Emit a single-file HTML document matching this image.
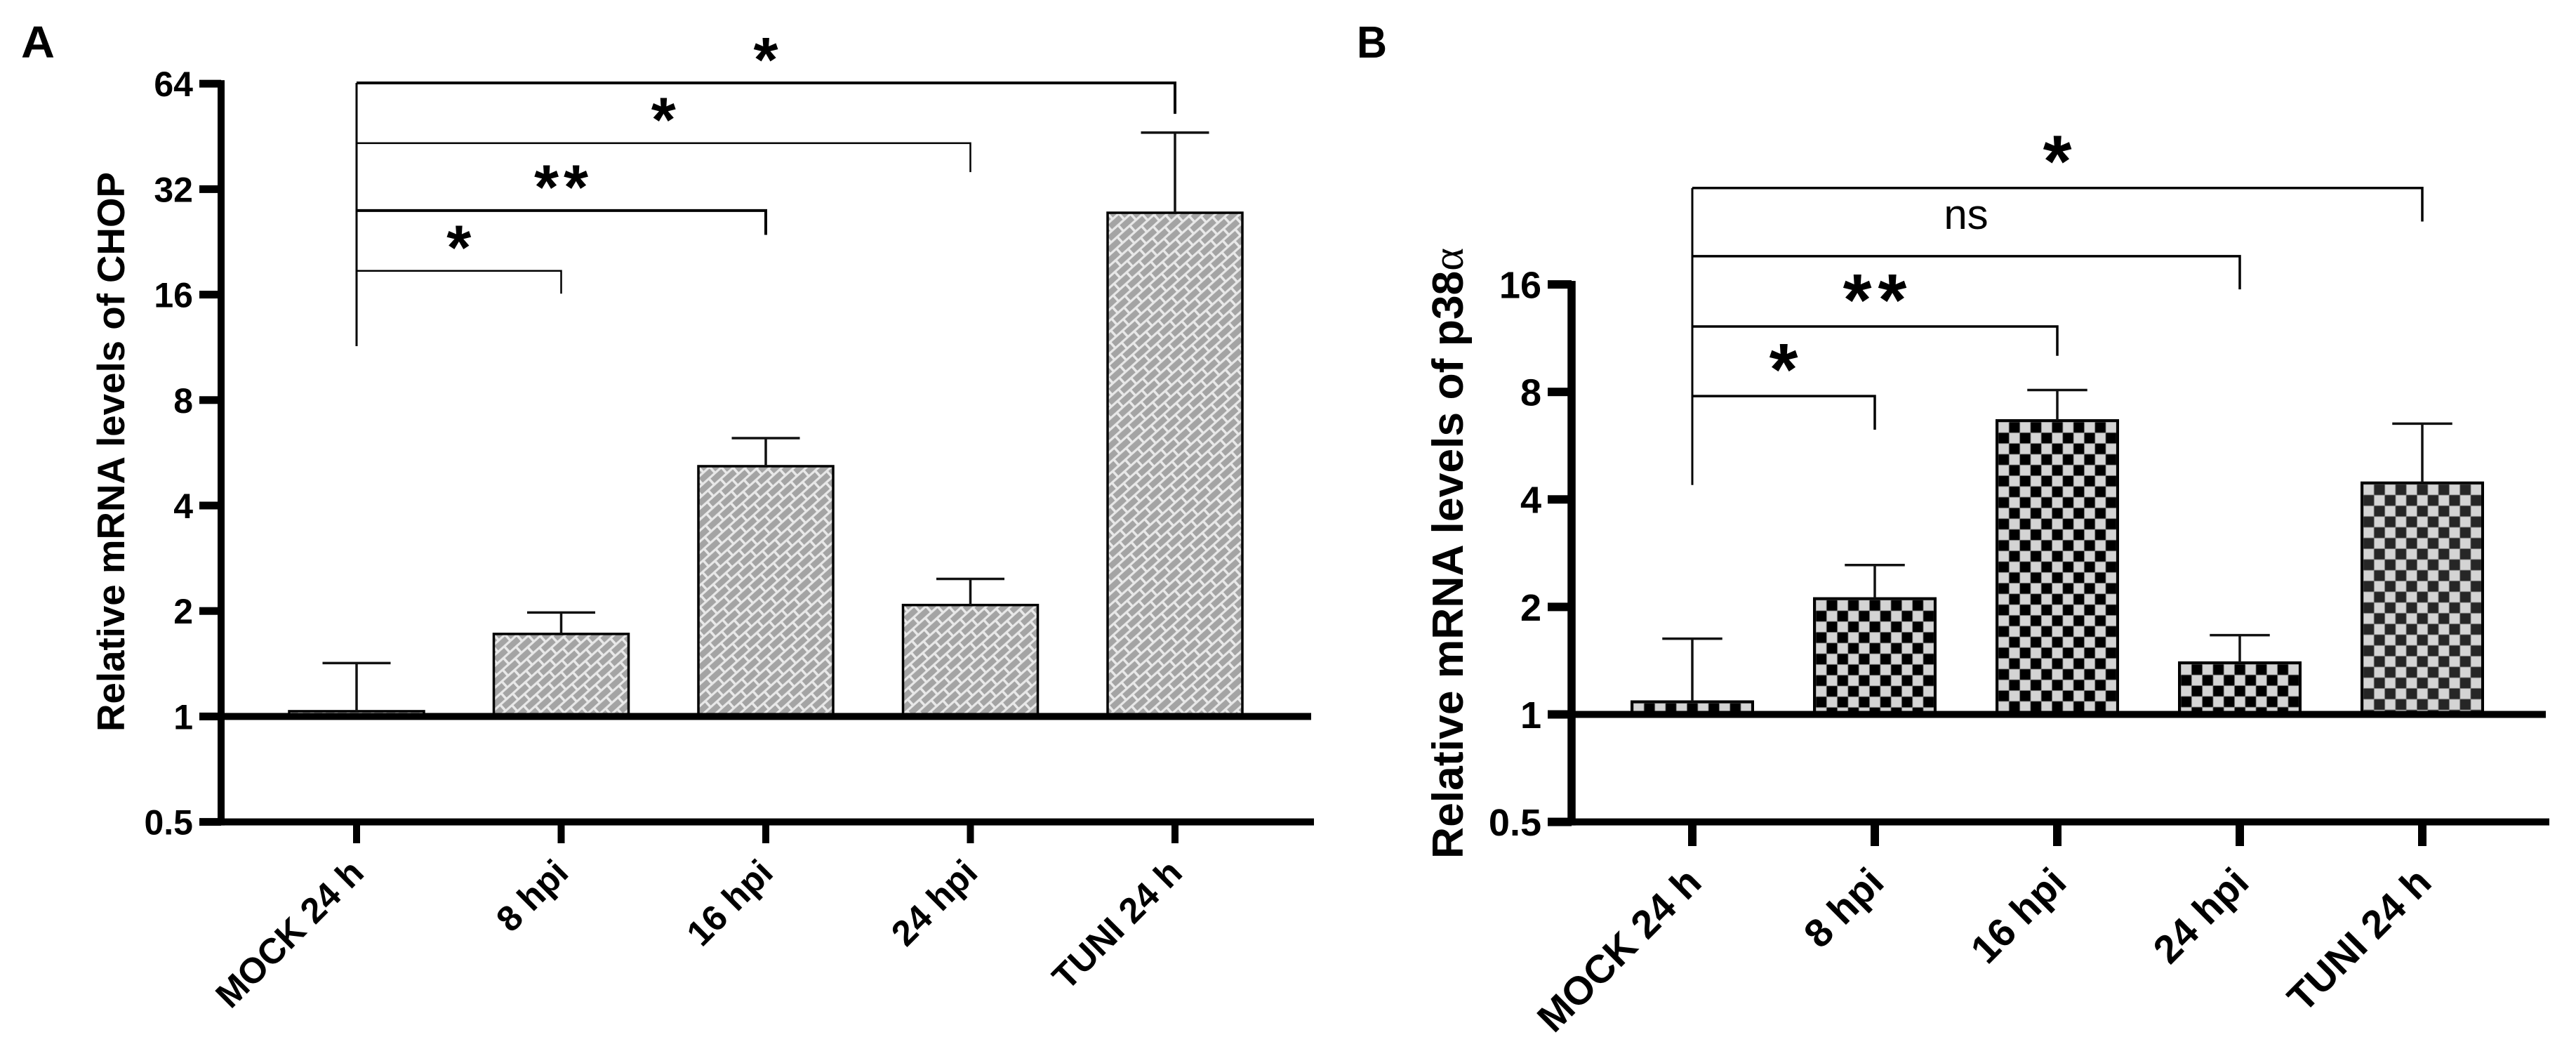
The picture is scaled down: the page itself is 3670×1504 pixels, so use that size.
<!DOCTYPE html>
<html lang="en">
<head>
<meta charset="utf-8">
<title>Relative mRNA levels of CHOP and p38α</title>
<style>
html,body{margin:0;padding:0;background:#fff;width:3670px;height:1504px;overflow:hidden}
svg{display:block}
text{font-family:"Liberation Sans",Arial,sans-serif;fill:#000}
</style>
</head>
<body>
<svg id="fig" xmlns="http://www.w3.org/2000/svg" width="3670" height="1504" viewBox="0 0 3670 1504">
<rect width="3670" height="1504" fill="#fff"/>
<defs id="defs"></defs>
<text x="30" y="82" font-size="64" font-weight="700" textLength="48" lengthAdjust="spacingAndGlyphs">A</text>
<text x="1933" y="82" font-size="64" font-weight="700" textLength="43" lengthAdjust="spacingAndGlyphs">B</text>
<text transform="translate(177,643.5) rotate(-90)" text-anchor="middle" font-size="55" font-weight="700" textLength="797" lengthAdjust="spacingAndGlyphs">Relative mRNA levels of CHOP</text>
<text transform="translate(2084,788) rotate(-90)" text-anchor="middle" font-size="62" font-weight="700" textLength="870" lengthAdjust="spacingAndGlyphs">Relative mRNA levels of p38<tspan font-family="'Liberation Serif',serif" font-weight="400">α</tspan></text>
<g id="panelA"></g>
<g id="panelB"></g>
</svg>
<script>
// ---- shared data ----
const categories = ['MOCK 24 h', '8 hpi', '16 hpi', '24 hpi', 'TUNI 24 h'];

// ---- panel A: CHOP ----
const chopTicks = [0.5, 1, 2, 4, 8, 16, 32, 64];
const chopValues = [1.035, 1.72, 5.18, 2.08, 27.4];
const chopErrors = [1.42, 1.98, 6.23, 2.47, 46.4];
const chopBracketTargets = [4, 3, 2, 1];
const chopBracketLevels = [64.3, 43.3, 27.8, 18.7];
const chopBracketDrops = [52.5, 35.8, 23.7, 16.1];
const chopBracketLabels = ['*', '*', '**', '*'];
const chopBracketLow = 11.4;

// ---- panel B: p38 alpha ----
const p38Ticks = [0.5, 1, 2, 4, 8, 16];
const p38Values = [1.085, 2.11, 6.65, 1.395, 4.45];
const p38Errors = [1.63, 2.62, 8.10, 1.667, 6.52];
const p38BracketTargets = [4, 3, 2, 1];
const p38BracketLevels = [29.8, 19.2, 12.2, 7.79];
const p38BracketDrops = [24.0, 15.5, 10.1, 6.27];
const p38BracketLabels = ['*', 'ns', '**', '*'];
const p38BracketLow = 4.39;

const NS = 'http://www.w3.org/2000/svg';
const defs = document.getElementById('defs');
function mk(parent, tag, attrs, txt) {
  const el = document.createElementNS(NS, tag);
  for (const k in attrs) el.setAttribute(k, attrs[k]);
  if (txt !== undefined) el.textContent = txt;
  parent.appendChild(el);
  return el;
}
function brickPattern(id, bx, by) {
  const p = mk(defs, 'pattern', {id: id, patternUnits: 'userSpaceOnUse', width: 24, height: 23.2,
    patternTransform: 'translate(' + bx + ',' + by + ') rotate(-42)'});
  mk(p, 'rect', {width: 24, height: 23.2, fill: '#e8e8e8'});
  mk(p, 'rect', {x: 1, y: 1.5, width: 20.5, height: 8.4, fill: '#a4a4a4'});
  mk(p, 'rect', {x: 13, y: 13.1, width: 20.5, height: 8.4, fill: '#a4a4a4'});
  mk(p, 'rect', {x: -11, y: 13.1, width: 20.5, height: 8.4, fill: '#a4a4a4'});
}
function checkPattern(id, bx, by, dark) {
  const c = 15.3;
  const p = mk(defs, 'pattern', {id: id, patternUnits: 'userSpaceOnUse', width: 2 * c, height: 2 * c,
    patternTransform: 'translate(' + bx + ',' + by + ')'});
  mk(p, 'rect', {width: 2 * c, height: 2 * c, fill: '#8a8a8a'});
  mk(p, 'rect', {x: 0.6, y: 0.6, width: c - 1.2, height: c - 1.2, fill: '#d4d4d4'});
  mk(p, 'rect', {x: c + 0.6, y: c + 0.6, width: c - 1.2, height: c - 1.2, fill: '#d4d4d4'});
  mk(p, 'rect', {x: c + 0.3, y: 0.3, width: c - 0.6, height: c - 0.6, fill: dark});
  mk(p, 'rect', {x: 0.3, y: c + 0.3, width: c - 0.6, height: c - 0.6, fill: dark});
}

function renderPanel(o) {
  const g = document.getElementById(o.id);
  const y = v => o.y1 - o.step * Math.log2(v);
  const x = i => o.x0 + o.dx * i;
  let el;

  // bars
  o.values.forEach((v, i) => {
    const top = y(v), cx = x(i), pid = o.id + '-fill-' + i;
    if (o.kind === 'brick') brickPattern(pid, cx - o.barW / 2, top);
    else checkPattern(pid, cx - o.barW / 2 + 2, top + 2, i === 4 ? '#262626' : '#000');
    el = mk(g, 'rect', {x: cx - o.barW / 2, y: top, width: o.barW, height: y(1) - top,
      fill: 'url(#' + pid + ')', stroke: '#000', 'stroke-width': o.barStroke});
    
    
  });

  // error bars
  o.errors.forEach((e, i) => {
    const t = y(e), b = y(o.values[i]), cx = x(i);
    el = mk(g, 'path', {d: 'M' + cx + ' ' + b + 'V' + t + 'M' + (cx - o.capW / 2) + ' ' + t + 'H' + (cx + o.capW / 2),
      fill: 'none', stroke: '#111', 'stroke-width': 3.5});
    
    
  });

  // baseline at 1
  el = mk(g, 'rect', {x: o.tickL, y: y(1) - 5, width: o.baseR - o.tickL, height: 10, fill: '#000'});
  
  

  // x axis
  const yMin = y(o.ticks[0]);
  el = mk(g, 'rect', {x: o.tickL, y: yMin - 5, width: o.axisR - o.tickL, height: 10, fill: '#000'});
  
  

  // y axis
  const yMax = y(o.ticks[o.ticks.length - 1]);
  el = mk(g, 'rect', {x: o.axisX - o.axisW / 2, y: yMax - 5, width: o.axisW, height: yMin - yMax + 10, fill: '#000'});
  
  

  // y ticks & labels
  o.ticks.forEach(t => {
    el = mk(g, 'rect', {x: o.tickL, y: y(t) - o.tickH / 2, width: o.axisX - o.tickL, height: o.tickH, fill: '#000'});
    
    
    el = mk(g, 'text', {x: o.tickL - 9, y: y(t) + o.fs * 0.36, 'text-anchor': 'end', 'font-size': o.fs, 'font-weight': 700}, String(t));
    
    
  });

  // x ticks & labels
  categories.forEach((c, i) => {
    el = mk(g, 'rect', {x: x(i) - o.xTickW / 2, y: yMin, width: o.xTickW, height: o.xTickB - yMin, fill: '#000'});
    
    
    el = mk(g, 'text', {transform: 'translate(' + (x(i) + o.labelDx) + ',' + o.labelY + ') rotate(-45)', 'text-anchor': 'end',
      'font-size': o.labelFs, 'font-weight': 700}, c);
    
    
  });

  // significance brackets
  el = mk(g, 'path', {d: 'M' + x(0) + ' ' + y(o.levels[0]) + 'V' + y(o.low), fill: 'none', stroke: '#000', 'stroke-width': 3});
  
  
  o.targets.forEach((tg, i) => {
    const yy = y(o.levels[i]), sw = o.bracketW[i];
    el = mk(g, 'path', {d: 'M' + x(0) + ' ' + yy + 'H' + x(tg) + 'V' + y(o.drops[i]), fill: 'none', stroke: '#000', 'stroke-width': sw});
    
    
    const lab = o.labels[i], mid = x(tg / 2);
    if (lab === 'ns') {
      el = mk(g, 'text', {x: mid, y: yy - 39, 'text-anchor': 'middle', 'font-size': 60}, lab);
    } else {
      el = mk(g, 'text', {x: mid + o.starGap / 2, y: yy - o.starUp + o.starFs * 0.465, 'text-anchor': 'middle',
        'font-size': o.starFs, 'font-weight': 700, 'letter-spacing': o.starGap}, lab);
    }
    
    
  });
}

renderPanel({
  id: 'panelA', kind: 'brick', ticks: chopTicks, values: chopValues, errors: chopErrors,
  targets: chopBracketTargets, levels: chopBracketLevels, drops: chopBracketDrops, labels: chopBracketLabels, low: chopBracketLow,
  bracketW: [4, 2.5, 4, 2.5], starFs: 90, starUp: 44, starGap: 7, barStroke: 3.5,
  y1: 1020.4, step: 150.2, x0: 508, dx: 291.5, barW: 192, capW: 97,
  axisX: 315, axisW: 10, tickL: 284, tickH: 11, baseR: 1868, axisR: 1872, xTickW: 10, xTickB: 1201,
  fs: 50, labelFs: 51, labelDx: 13, labelY: 1246
});
renderPanel({
  id: 'panelB', kind: 'check', ticks: p38Ticks, values: p38Values, errors: p38Errors,
  targets: p38BracketTargets, levels: p38BracketLevels, drops: p38BracketDrops, labels: p38BracketLabels, low: p38BracketLow,
  bracketW: [3.5, 3.5, 3.5, 3.5], starFs: 105, starUp: 51, starGap: 9, barStroke: 4,
  y1: 1017.5, step: 153.1, x0: 2411, dx: 260, barW: 172, capW: 85.5,
  axisX: 2239, axisW: 11.5, tickL: 2205, tickH: 12, baseR: 3627, axisR: 3632, xTickW: 12, xTickB: 1205,
  fs: 54, labelFs: 56.5, labelDx: 16, labelY: 1260
});
</script>
</body>
</html>
